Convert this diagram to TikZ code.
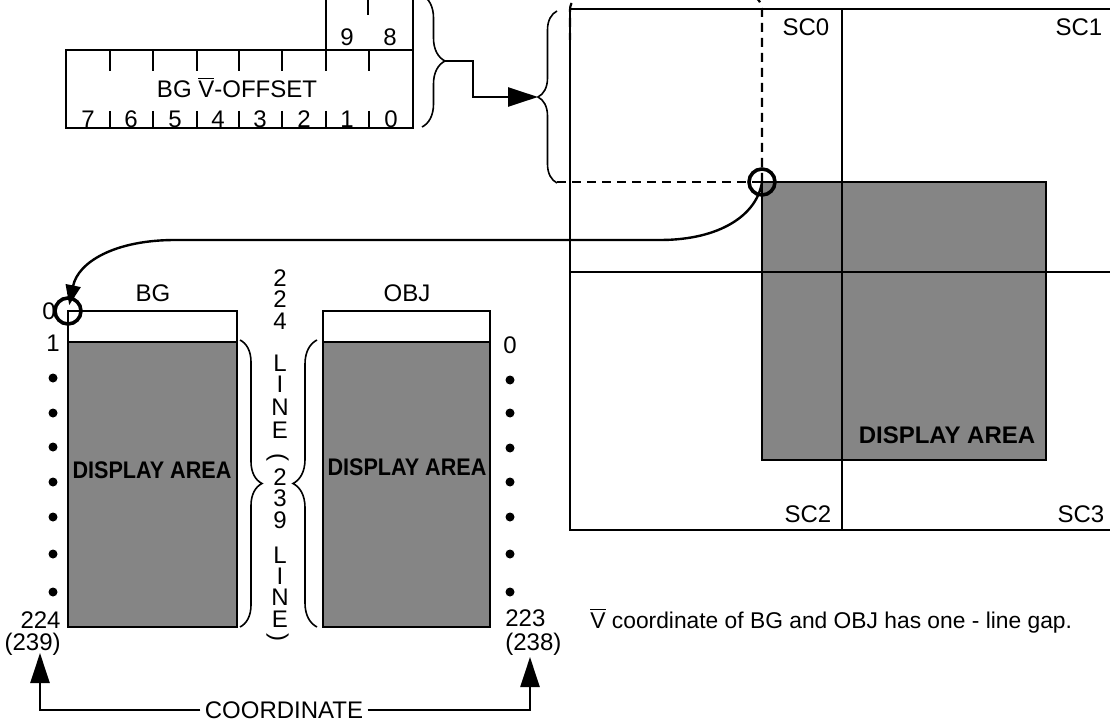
\documentclass[tikz,border=0pt]{standalone}
\usepackage{fontspec}
\setmainfont{Liberation Sans}
\usetikzlibrary{arrows.meta,decorations.pathreplacing}
\newcommand\myVbar{\ensuremath{\overline{\mbox{V}}}}
\tikzset{
  box/.style={draw, line width=1.2pt},
  shadefill/.style={fill=black!48},
  lbl/.style={inner sep=0pt, text height=8.6pt, text depth=0pt, font=\fontsize{12}{14}\selectfont},
  dalbl/.style={inner sep=0pt, text height=8.6pt, text depth=0pt, font=\fontsize{12}{14}\selectfont\bfseries},
  dotmark/.style={circle, fill=black, inner sep=0pt, minimum size=4.5pt},
  brc/.style={decorate, decoration={brace, amplitude=#1}, line width=0.8pt},
  dashline/.style={line width=1.1pt, dash pattern=on 4.5pt off 3pt},
  ring/.style={circle, draw, line width=1.8pt, minimum size=13pt, inner sep=0pt},
  bigtip/.style={-{Triangle[length=15pt,width=9.5pt]}, line width=1.2pt},
  smalltip/.style={-{Triangle[length=10pt,width=7.5pt]}, line width=1.2pt}
}
\begin{document}
\begin{tikzpicture}[x=0.5pt,y=-0.5pt]
\useasboundingbox (0,0) rectangle (1110,722);
\begin{scope}
\clip (0,0) rectangle (1110,722);

% ---------------- register ----------------
\draw[box] (66,50) rectangle (413,128);
\draw[box] (326,-5) -- (326,71);
\draw[box] (413,-5) -- (413,50);
\draw[box] (368,-5) -- (368,15);
\foreach \x in {110,153,197,239,282,369} \draw[box] (\x,50) -- (\x,71);
\foreach \x in {110,153,197,239,282,326,369} \draw[box] (\x,111) -- (\x,128);
\foreach \d/\x in {7/88,6/131,5/175,4/218,3/260,2/304,1/347,0/391}
  \node[lbl] (bit\d) at (\x,119) {\d};
\node[lbl] (bit9) at (347,37) {9};
\node[lbl] (bit8) at (390,37) {8};
\node[lbl] (regname) at (237,89) {BG \myVbar-OFFSET};
\draw[brc=11.5pt] (422,-5) -- (422,127);
\coordinate (regtip) at (445,61);

% ---------------- screen ----------------
\draw[brc=9.5pt] (557,183) -- (557,11);
\coordinate (scrtip) at (538,97);
\draw[bigtip] (regtip) -- ++(28,0) |- (scrtip);

\fill[shadefill] (762,182) rectangle (1046,460);
\draw[box] (570,9) -- (1120,9);
\draw[box] (570,9) -- (570,530) -- (1120,530);
\draw[box] (842,9) -- (842,530);
\draw[box] (570,272) -- (1120,272);
\draw[line width=1.4pt] (762,182) rectangle (1046,460);
\node[lbl] (sc0) at (806,27) {SC0};
\node[lbl] (sc1) at (1079,27) {SC1};
\node[lbl] (sc2) at (808,514) {SC2};
\node[lbl] (sc3) at (1081,514) {SC3};
\node[dalbl] (da3) at (947,435) {DISPLAY AREA};

\draw[dashline] (557,182) -- (762,182);
\draw[dashline, rounded corners=8pt] (762,182) -- (762,-6) -- (570,-6) -- (570,40);
\node[ring] (scr) at (762,182) {};

% ---------------- BG box ----------------
\fill[shadefill] (68,342) rectangle (237,627);
\draw[box] (68,311) rectangle (237,627);
\draw[box] (68,342) -- (237,342);
\node[lbl] (bgt) at (153,293) {BG};
\node[lbl] (bg0) at (49,311) {0};
\node[ring] (bgring) at (68,311) {};
\node[lbl] (bg1) at (53,343) {1};
\foreach \y [count=\i] in {378,413,447,482,517,554,592}
  \node[dotmark] (bgdot\i) at (53,\y) {};
\node[lbl, anchor=east] (n224) at (61,620) {224};
\node[lbl, anchor=east] (n239) at (61,642) {(239)};
\node[dalbl, xscale=0.9] (da1) at (152,470) {DISPLAY AREA};

\draw[smalltip, shorten >=3pt] (scr.center) .. controls (757,215) and (720,240) .. (660,240)
  -- (175,240) .. controls (115,240) and (78,262) .. (bgring.center);

% ---------------- OBJ box ----------------
\fill[shadefill] (323,342) rectangle (490,627);
\draw[box] (323,311) rectangle (490,627);
\draw[box] (323,342) -- (490,342);
\node[lbl] (objt) at (407,293) {OBJ};
\node[lbl] (obj0) at (510,345) {0};
\foreach \y [count=\i] in {380,413,448,482,517,554,592}
  \node[dotmark] (objdot\i) at (510,\y) {};
\node[lbl, anchor=west] (n223) at (505,618) {223};
\node[lbl, anchor=west] (n238) at (505,642) {(238)};
\node[dalbl, xscale=0.9] (da2) at (407,467) {DISPLAY AREA};

% ---------------- middle column ----------------
\draw[brc=11pt] (240,340) -- (240,627);
\draw[brc=12pt] (317,627) -- (317,340);
\foreach \c/\y [count=\i] in {2/278,2/299,4/321,L/363,I/384,N/407,E/430,2/477,3/498,9/520,L/555,I/576,N/597,E/619}
  \node[lbl] (mid\i) at (280,\y) {\c};
\node[lbl, rotate=-90] (parl) at (280,457) {(};
\node[lbl, rotate=-90] (parr) at (280,637) {)};

% ---------------- coordinate ----------------
\node[lbl, inner xsep=2pt] (coord) at (284,710) {COORDINATE};
\coordinate (ltip) at (40,653);
\coordinate (rtip) at (530,657);
\draw[bigtip] (coord.west) -| (ltip);
\draw[bigtip] (coord.east) -| (rtip);

\node[inner sep=0pt, anchor=base west, font=\fontsize{11.4}{13}\selectfont] (note) at (590,628)
  {\myVbar{} coordinate of BG and OBJ has one - line gap.};
\end{scope}
\end{tikzpicture}
\end{document}
